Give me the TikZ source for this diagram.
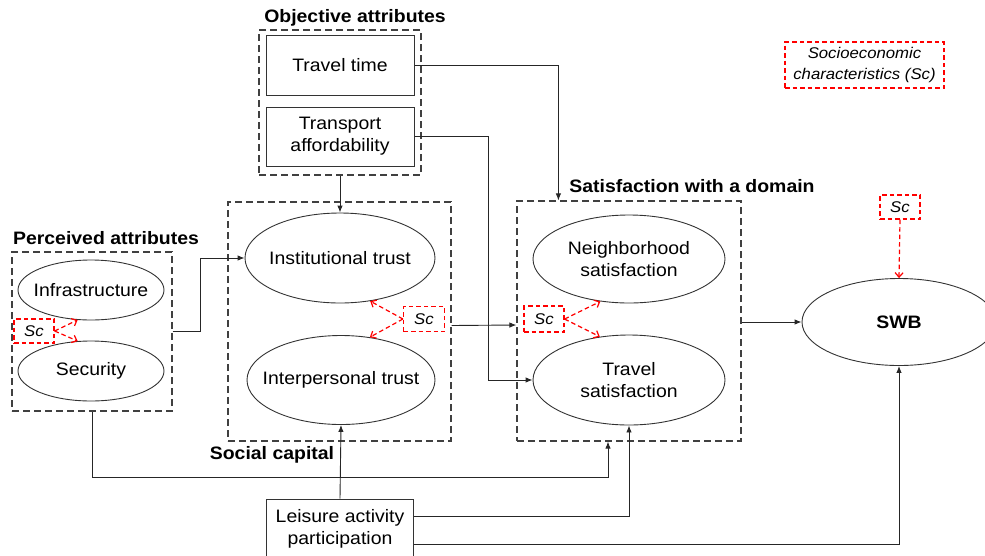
\documentclass[tikz,border=0pt]{standalone}
\usepackage{fontspec}
\setmainfont{Liberation Sans}[FakeStretch=1.08]
\usetikzlibrary{shapes.geometric,arrows.meta,calc}
\begin{document}
\begin{tikzpicture}[x=1pt,y=-1pt,
  every node/.style={font=\fontsize{18}{22}\selectfont, inner sep=0pt, align=center},
  dbox/.style={draw=black!75, dash pattern=on 7pt off 4pt, line width=1.2pt},
  rbox/.style={draw=red, dash pattern=on 4.5pt off 3pt, line width=1.2pt, font=\fontsize{15.5}{21}\selectfont\itshape},
  sbox/.style={draw=black!80, line width=1pt},
  ell/.style={draw=black!80, ellipse, line width=0.9pt, inner xsep=-30pt},
  ttl/.style={font=\fontsize{18}{22}\selectfont\bfseries},
  arr/.style={draw=black!85, line width=0.9pt, -{Latex[length=7pt,width=5.5pt]}},
  rarr/.style={draw=red, line width=1.2pt, dash pattern=on 4.5pt off 3pt, -{Straight Barb[length=4.5pt,width=8pt]}},
]
\useasboundingbox (0,0) rectangle (985,555);

% Objective attributes
\node[dbox, minimum width=162pt, minimum height=145pt] (obj) at (340,102.5) {};
\node[ttl] (objl) at (355,18) {Objective attributes};
\node[sbox, minimum width=148pt, minimum height=60pt] (tt) at (340,65) {Travel time};
\node[sbox, minimum width=148pt, minimum height=59pt] (ta) at (340,136.5) {Transport\\affordability};

% Perceived attributes
\node[dbox, minimum width=160pt, minimum height=159pt] (perc) at (92,331.5) {};
\node[ttl] (percl) at (106,238) {Perceived attributes};
\node[ell, minimum width=146pt, minimum height=60pt] (infra) at (91,290) {Infrastructure};
\node[ell, minimum width=146pt, minimum height=60pt] (secu) at (91,371) {Security};
\node[rbox, minimum width=40pt, minimum height=24pt] (sc1) at (34,331) {Sc};

% Social capital
\node[dbox, minimum width=223pt, minimum height=239pt] (soc) at (339.5,321.5) {};
\node[ttl] (socl) at (272,455) {Social capital};
\node[ell, minimum width=190pt, minimum height=90pt] (inst) at (340,258) {Institutional trust};
\node[ell, minimum width=188pt, minimum height=89pt] (inter) at (341,380) {Interpersonal trust};
\node[rbox, minimum width=41pt, minimum height=25pt] (sc2) at (424,319) {Sc};

% Satisfaction with a domain
\node[dbox, minimum width=224pt, minimum height=240pt] (sat) at (629,321) {};
\node[ttl] (satl) at (692,186) {Satisfaction with a domain};
\node[ell, minimum width=192pt, minimum height=88pt] (neigh) at (629,259) {Neighborhood\\satisfaction};
\node[ell, minimum width=192pt, minimum height=90pt] (trav) at (629,380) {Travel\\satisfaction};
\node[rbox, minimum width=40pt, minimum height=26pt] (sc3) at (544,319) {Sc};

% SWB
\node[ell, minimum width=194pt, minimum height=87pt, font=\fontsize{18}{22}\selectfont\bfseries] (swb) at (899,322) {SWB};
\node[rbox, minimum width=40pt, minimum height=24pt] (sc4) at (900,207) {Sc};
\node[rbox, minimum width=159pt, minimum height=46pt] (socio) at (864.5,65) {Socioeconomic\\characteristics (Sc)};

% Leisure
\node[sbox, minimum width=147pt, minimum height=60pt] (leis) at (340,529) {Leisure activity\\participation};

% Black connectors
\draw[arr] (obj.south) -- (inst.north);
\draw[arr] (perc.east) -- ++(28,0) |- (inst.west);
\coordinate (c1) at (608,477);
\draw[arr] (perc.south) |- (c1) -- (c1 |- sat.south);
\draw[arr] ($(soc.east)+(0,4)$) -- ($(sat.west)+(0,4)$);
\draw[arr] (tt.east) -| ($(sat.north west)+(42,0)$);
\draw[arr] (ta.east) -| ($(trav.west)+(-44,0)$) -- (trav.west);
\draw[arr] (sat.east |- swb.west) -- (swb.west);
\draw[arr] (leis.north) -- (inter.south);
\draw[arr] ($(leis.east)+(0,-13)$) -| (trav.south);
\draw[arr] ($(leis.east)+(0,15)$) -| (swb.south);

% Red connectors
\draw[rarr] (sc1.east) -- (infra.-114);
\draw[rarr] (sc1.east) -- (secu.114);
\draw[rarr] (sc2.west) -- (inst.-55);
\draw[rarr] (sc2.west) -- (inter.56);
\draw[rarr] (sc3.east) -- (neigh.-124);
\draw[rarr] (sc3.east) -- (trav.124);
\draw[rarr] (sc4.south) -- (swb.north);
\end{tikzpicture}
\end{document}
